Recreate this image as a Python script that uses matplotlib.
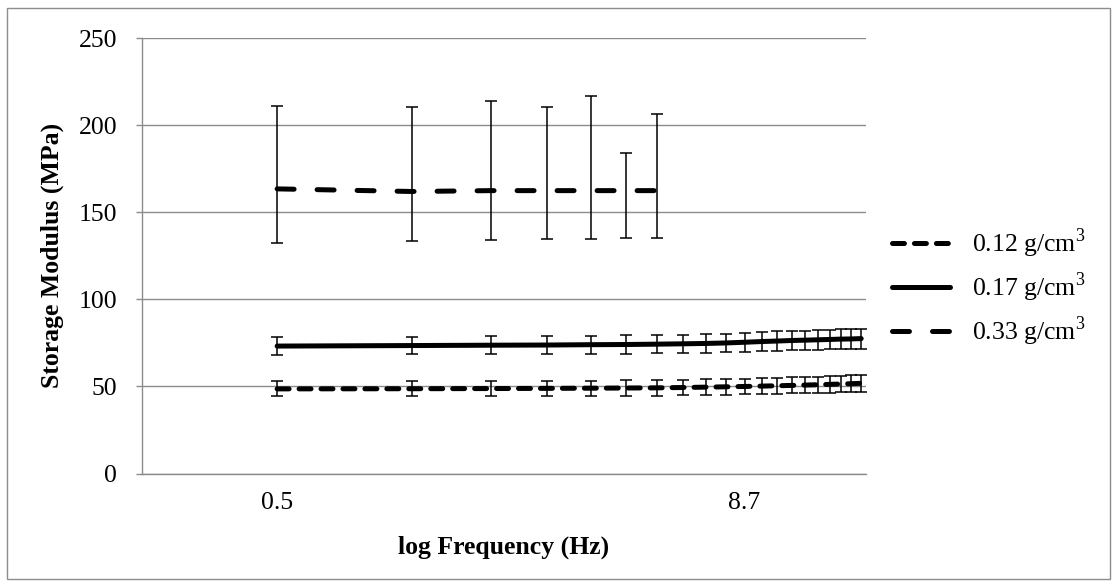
import matplotlib
matplotlib.use("Agg")
import matplotlib.pyplot as plt
from matplotlib.patches import Rectangle

plt.rcParams['font.family'] = ['Liberation Serif', 'DejaVu Serif']
plt.rcParams['mathtext.fontset'] = 'custom'
plt.rcParams['mathtext.rm'] = 'Liberation Serif'
plt.rcParams['lines.scale_dashes'] = False

# ---------------- data ----------------
freq = [0.5, 1.0, 1.5, 2.0, 2.5, 3.0, 3.5, 4.0, 4.5, 5.0,
        5.5, 6.0, 6.5, 7.0, 7.5, 8.0, 8.5, 9.0, 9.5, 10.0]

labels = ["0.12 g/cm$^3$", "0.17 g/cm$^3$", "0.33 g/cm$^3$"]

mod_012 = [48.6, 48.7, 48.8, 48.9, 49.0, 49.1, 49.2, 49.4, 49.6, 49.8,
           50.0, 50.2, 50.4, 50.6, 50.8, 51.0, 51.2, 51.4, 51.6, 51.8]
err_012 = [4.3, 4.3, 4.3, 4.3, 4.4, 4.4, 4.4, 4.4, 4.5, 4.5,
           4.5, 4.5, 4.6, 4.6, 4.6, 4.6, 4.7, 4.7, 4.7, 4.7]

mod_017 = [73.2, 73.5, 73.7, 73.8, 74.0, 74.1, 74.3, 74.5, 74.7, 75.0,
           75.4, 75.8, 76.1, 76.4, 76.6, 76.8, 77.0, 77.2, 77.3, 77.5]
err_017 = [5.0, 5.1, 5.1, 5.1, 5.2, 5.2, 5.2, 5.3, 5.3, 5.3,
           5.4, 5.4, 5.5, 5.5, 5.5, 5.6, 5.6, 5.6, 5.7, 5.7]

freq_033 = [0.5, 1.0, 1.5, 2.0, 2.5, 3.0, 3.5]
mod_033 = [163.5, 162.0, 162.5, 162.5, 162.5, 162.5, 162.5]
upper_033 = [211.2, 210.5, 213.7, 210.5, 216.8, 184.0, 206.6]
lower_033 = [132.6, 133.8, 134.4, 134.8, 134.9, 135.2, 135.5]

yticks = [0, 50, 100, 150, 200, 250]
xtick_labels = ["0.5", "8.7"]
xtick_pos = [0.5, 5.48]

# ---------------- figure ----------------
fig = plt.figure(figsize=(11.18, 5.86), dpi=100)
ax = fig.add_axes([142/1118, 1-473.5/586, 724/1118, 435.2/586])

FS = 18.5
grid_c = '#8c8c8c'
LW = 3.6

err_kw = dict(ecolor='black', elinewidth=1.1, capsize=4.5, capthick=1.1)

e1 = ax.errorbar(freq, mod_012, yerr=err_012, color='black', lw=LW,
                 dash_capstyle='round', zorder=3, **err_kw)
e1[0].set_dashes([8.6, 7.2])

e2 = ax.errorbar(freq, mod_017, yerr=err_017, color='black', lw=LW,
                 solid_capstyle='round', zorder=3, **err_kw)

yerr_033 = [[m - l for m, l in zip(mod_033, lower_033)],
            [u - m for m, u in zip(mod_033, upper_033)]]
e3 = ax.errorbar(freq_033, mod_033, yerr=yerr_033, color='black', lw=LW,
                 dash_capstyle='round', zorder=3, **err_kw)
e3[0].set_dashes([12.2, 16.6])

ax.set_xscale('log')
ax.set_xlim(0.25, 10.25)
ax.set_ylim(0, 250)
ax.set_yticks(yticks)
ax.set_xticks(xtick_pos)
ax.set_xticklabels(xtick_labels)
ax.xaxis.set_minor_locator(matplotlib.ticker.NullLocator())

ax.yaxis.grid(True, color=grid_c, lw=1.0)
ax.set_axisbelow(True)
for s in ['top', 'right']:
    ax.spines[s].set_visible(False)
for s in ['left', 'bottom']:
    ax.spines[s].set_color(grid_c)
    ax.spines[s].set_linewidth(1.0)

ax.tick_params(axis='y', length=4, color=grid_c, width=1.0, pad=14, labelsize=FS)
ax.tick_params(axis='x', length=0, pad=13, labelsize=FS)

ax.set_xlabel("log Frequency (Hz)", fontsize=FS, fontweight='bold', va='center')
ax.xaxis.set_label_coords(0.5, (473.5-547)/435.2)
ax.set_ylabel("Storage Modulus (MPa)", fontsize=FS, fontweight='bold', va='center')
ax.yaxis.set_label_coords((52-142)/724, 0.5)

handles = [e1[0], e2[0], e3[0]]
leg = fig.legend(handles, labels, loc='center left',
                 bbox_to_anchor=(892/1118, 1-287/586), frameon=False,
                 fontsize=FS, handlelength=2.27, handletextpad=0.86,
                 labelspacing=0.4, borderpad=0, borderaxespad=0)

fig.patches.append(Rectangle((7/1118, 1-579/586), (1110-7)/1118, (579-8)/586,
                             transform=fig.transFigure, fill=False,
                             edgecolor=grid_c, lw=1.0))

fig.savefig("out.png", dpi=100)
